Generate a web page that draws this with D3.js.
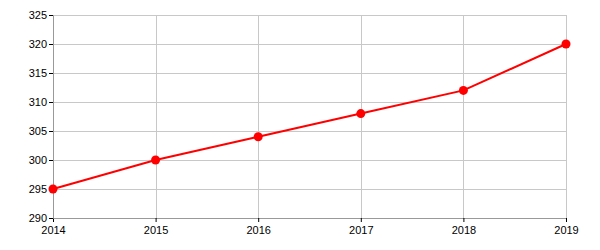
<!DOCTYPE html>
<html><head><meta charset="utf-8">
<script src="https://cdn.jsdelivr.net/npm/d3@7"></script>
<style>body{margin:0;background:#fff}svg{display:block}</style>
</head><body>
<svg id="c" width="600" height="250"></svg>
<script>
const years = [2014, 2015, 2016, 2017, 2018, 2019];
const values = [295, 300, 304, 308, 312, 320];
const yTicks = [290, 295, 300, 305, 310, 315, 320, 325];

const m = {left: 53, top: 15, right: 34, bottom: 32};
const W = 600, H = 250;
const w = W - m.left - m.right, h = H - m.top - m.bottom;
const svg = d3.select('#c');
const g = svg.append('g').attr('transform', `translate(${m.left},${m.top})`);
const x = d3.scaleLinear().domain([2014, 2019]).range([0, w]);
const y = d3.scaleLinear().domain([290, 325]).range([h, 0]);

// grid
g.append('g').selectAll('line').data(yTicks).join('line')
  .attr('x1', 0).attr('x2', w)
  .attr('y1', d => Math.round(y(d)) + 0.5).attr('y2', d => Math.round(y(d)) + 0.5)
  .attr('stroke', '#c8c8c8').attr('stroke-width', 1);
g.append('g').selectAll('line').data(years).join('line')
  .attr('y1', 0).attr('y2', h)
  .attr('x1', d => Math.round(x(d)) + 0.5).attr('x2', d => Math.round(x(d)) + 0.5)
  .attr('stroke', '#c8c8c8').attr('stroke-width', 1);

const xa = g.append('g').attr('transform', `translate(0,${h})`)
  .call(d3.axisBottom(x).tickValues(years).tickFormat(d3.format('d')).tickSizeOuter(0).tickSize(4));
const ya = g.append('g')
  .call(d3.axisLeft(y).tickValues(yTicks).tickSizeOuter(0).tickSize(4));
[xa, ya].forEach(a => {
  a.select('.domain').attr('stroke', '#999');
  a.selectAll('.tick line').attr('stroke', '#000');
  a.selectAll('text').attr('font-family', 'Liberation Sans, Arial, sans-serif').attr('font-size', 11).attr('fill', '#000');
});
xa.selectAll('text').attr('dy', '0.71em').attr('y', 8);
ya.selectAll('text').attr('x', -6);

g.append('path').datum(years.map((d, i) => [d, values[i]]))
  .attr('fill', 'none').attr('stroke', '#ff0000').attr('stroke-width', 2)
  .attr('d', d3.line().x(d => x(d[0])).y(d => y(d[1])));
g.append('g').selectAll('circle').data(years.map((d, i) => [d, values[i]])).join('circle')
  .attr('cx', d => x(d[0])).attr('cy', d => y(d[1])).attr('r', 4.5).attr('fill', '#ff0000');
</script>
</body></html>
